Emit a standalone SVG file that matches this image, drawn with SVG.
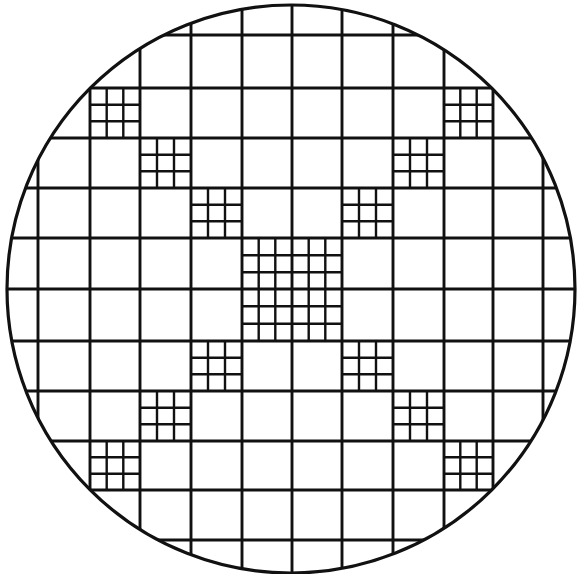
<svg xmlns="http://www.w3.org/2000/svg" width="577" height="574" viewBox="0 0 577 574">
<style>
.main{stroke:#111;stroke-width:2.9;fill:none}
.sub{stroke:#111;stroke-width:2.4;fill:none}
.rim{stroke:#111;stroke-width:3.2;fill:none}
</style>
<defs>
<clipPath id="c"><circle cx="291" cy="289" r="284"/></clipPath>
</defs>
<rect width="577" height="574" fill="#fff"/>
<g id="grid" clip-path="url(#c)">
<path class="main" d="M38 0V574M90 0V574M140 0V574M191 0V574M242 0V574M292 0V574M342 0V574M393 0V574M444 0V574M493 0V574M543 0V574"/>
<path class="main" d="M0 35H577M0 88H577M0 138H577M0 188H577M0 238H577M0 289H577M0 341H577M0 391H577M0 441H577M0 490H577M0 540H577"/>
</g>
<g id="centre">
<path class="sub" d="M258.7 238V341M275.3 238V341M308.7 238V341M325.3 238V341M242 255.2H342M242 272.3H342M242 306.3H342M242 323.8H342"/>
</g>
<g id="small">
<path class="sub" d="M106.7 88V138M123.3 88V138M90 104.7H140M90 121.3H140"/>
<path class="sub" d="M157 138V188M174 138V188M140 154.7H191M140 171.3H191"/>
<path class="sub" d="M208 188V238M225 188V238M191 204.7H242M191 221.3H242"/>
<path class="sub" d="M359 341V391M376 341V391M342 357.7H393M342 374.3H393"/>
<path class="sub" d="M410 391V441M427 391V441M393 407.7H444M393 424.3H444"/>
<path class="sub" d="M460.3 441V490M476.7 441V490M444 457.3H493M444 473.7H493"/>
<path class="sub" d="M460.3 88V138M476.7 88V138M444 104.7H493M444 121.3H493"/>
<path class="sub" d="M410 138V188M427 138V188M393 154.7H444M393 171.3H444"/>
<path class="sub" d="M359 188V238M376 188V238M342 204.7H393M342 221.3H393"/>
<path class="sub" d="M208 341V391M225 341V391M191 357.7H242M191 374.3H242"/>
<path class="sub" d="M157 391V441M174 391V441M140 407.7H191M140 424.3H191"/>
<path class="sub" d="M106.7 441V490M123.3 441V490M90 457.3H140M90 473.7H140"/>
</g>
<circle class="rim" cx="291" cy="289" r="284"/>
</svg>
